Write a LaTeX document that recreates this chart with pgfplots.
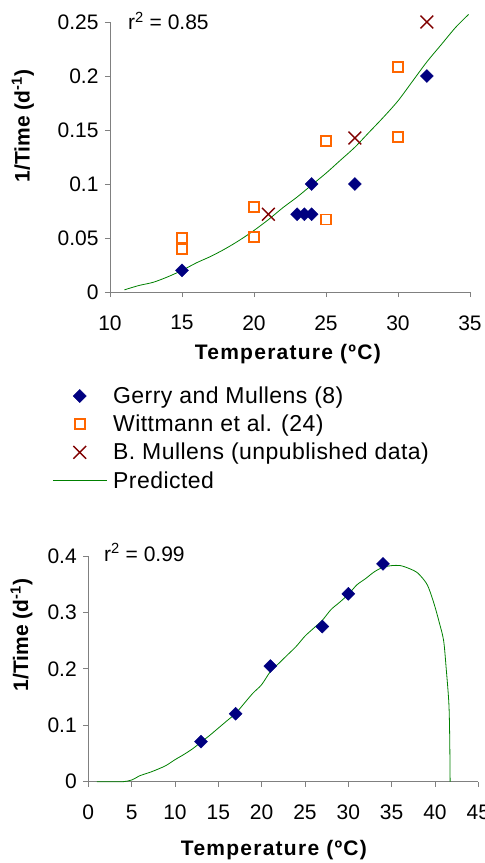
\documentclass[border=0pt]{standalone}
\usepackage{fontspec}
\setmainfont{Liberation Sans}
\usepackage{pgfplots}
\pgfplotsset{compat=1.18}
\definecolor{navy}{HTML}{000080}
\definecolor{orng}{HTML}{FF6600}
\definecolor{dred}{HTML}{800000}
\definecolor{grn}{HTML}{008000}
\begin{document}
\begin{tikzpicture}
\pgfplotsset{
 common/.style={
  scale only axis, axis lines=left, axis line style={-, draw=gray, line width=0.8pt},
  tick align=outside, major tick length=5pt, tick style={gray, line width=0.8pt},
  clip=false,
  ticklabel style={font=\fontsize{21}{21}\selectfont},
  xticklabel style={yshift=-15pt},
  yticklabel style={xshift=-3pt},
  label style={font=\bfseries\fontsize{21}{21}\selectfont},
  xlabel style={font=\bfseries\fontsize{21}{21}\selectfont\addfontfeature{LetterSpace=6}},
  minor tick num=0,
 },
 dia/.style={only marks, mark=square*, mark size=4.6pt, color=navy, mark options={rotate=45}},
}
\begin{axis}[common, at={(110pt,-292pt)}, anchor=south west, width=360pt, height=270pt,
 xmin=10, xmax=35, ymin=0, ymax=0.25,
 xtick={10,15,20,25,30,35}, xticklabels={10,15,20,25,30,35},
 ytick={0,0.05,0.1,0.15,0.2,0.25}, yticklabels={0,0.05,0.1,0.15,0.2,0.25},
 xlabel={Temperature (ºC)}, ylabel={1/Time (d\textsuperscript{-1})},
 xlabel style={at={(axis description cs:0.494,-0.23)}, anchor=center},
 ylabel style={at={(axis description cs:-0.242,0.615)}, anchor=center},
 legend style={at={(axis description cs:-0.169,-0.336)}, anchor=north west, draw=none, fill=none,
   font=\fontsize{23}{27}\selectfont\addfontfeature{LetterSpace=2}, legend cell align=left, row sep=6pt},
 legend image code/.code={\draw[mark repeat=2,mark phase=2,#1] plot coordinates {(0pt,0pt) (27pt,0pt) (54pt,0pt)}; \path (58pt,0pt);}
]
\addplot[dia] coordinates {
(15,0.02) (23,0.072) (23.5,0.072) (24,0.072) (24,0.1) (27,0.1) (32,0.2)};
\addlegendentry{Gerry and Mullens (8)}
\addplot[only marks, mark=square, mark size=5pt, color=orng, mark options={fill=white, line width=1.6pt}] coordinates {
(15,0.05) (15,0.04) (20,0.0787) (20,0.0509) (25,0.1398) (25,0.0673) (30,0.2083) (30,0.1435)};
\addlegendentry{Wittmann et al. (24)}
\addplot[only marks, mark=x, mark size=9pt, color=dred, mark options={line width=1.4pt}] coordinates {
(21,0.072) (27,0.1426) (32,0.25)};
\addlegendentry{B. Mullens (unpublished data)}
\addplot[grn, line width=0.8pt, smooth] coordinates {
(11,0.002) (12,0.006) (13,0.009) (14,0.014) (15,0.020) (16,0.027) (17,0.033) (18,0.040) (19,0.048) (20,0.057) (21,0.067) (22,0.078) (23,0.088) (24,0.099) (25,0.110) (26,0.122) (27,0.134) (28,0.148) (29,0.162) (30,0.177) (31,0.195) (32,0.213) (33,0.229) (34,0.245) (34.9,0.257)};
\addlegendentry{Predicted}
\node[anchor=west, font=\fontsize{21}{21}\selectfont, inner sep=0pt] at (axis cs:11.25,0.251) {r\textsuperscript{2} = 0.85};
\end{axis}
\begin{axis}[common, at={(88.3pt,-781.7pt)}, anchor=south west, width=390pt, height=225.7pt,
 xmin=0, xmax=45, ymin=0, ymax=0.4,
 xtick={0,5,10,15,20,25,30,35,40,45}, xticklabels={0,5,10,15,20,25,30,35,40,45},
 ytick={0,0.1,0.2,0.3,0.4}, yticklabels={0,0.1,0.2,0.3,0.4},
 xlabel={Temperature (ºC)}, ylabel={1/Time (d\textsuperscript{-1})},
 xlabel style={at={(axis description cs:0.476,-0.303)}, anchor=center},
 ylabel style={at={(axis description cs:-0.171,0.65)}, anchor=center}
]
\addplot[grn, line width=0.8pt, smooth] coordinates {
(1,0) (2,0) (3,0) (4,0) (5,0.003) (6,0.011) (7,0.016) (8,0.022) (9,0.029) (10,0.039) (11,0.048) (12,0.058) (13,0.070) (14,0.082) (15,0.095) (16,0.108) (17,0.121) (18,0.139) (19,0.157) (20,0.172) (21,0.195) (22,0.210) (23,0.225) (24,0.240) (25,0.258) (26,0.272) (27,0.286) (28,0.305) (29,0.318) (30,0.332) (31,0.349) (32,0.360) (33,0.372) (34,0.380) (35,0.383) (36,0.383) (37,0.378) (38,0.370) (39,0.352) (39.5,0.334) (40,0.31) (40.5,0.282) (41,0.25) (41.3,0.2) (41.6,0.14) (41.7,0.08) (41.75,0)};
\addplot[dia] coordinates {
(13,0.071) (17,0.1205) (21,0.205) (27,0.275) (30,0.333) (34,0.386)};
\node[anchor=west, font=\fontsize{21}{21}\selectfont, inner sep=0pt] at (axis cs:1.81,0.406) {r\textsuperscript{2} = 0.99};
\end{axis}
\pgfresetboundingbox
\path[use as bounding box] (0,0) rectangle (485pt,-863pt);
\end{tikzpicture}
\end{document}
